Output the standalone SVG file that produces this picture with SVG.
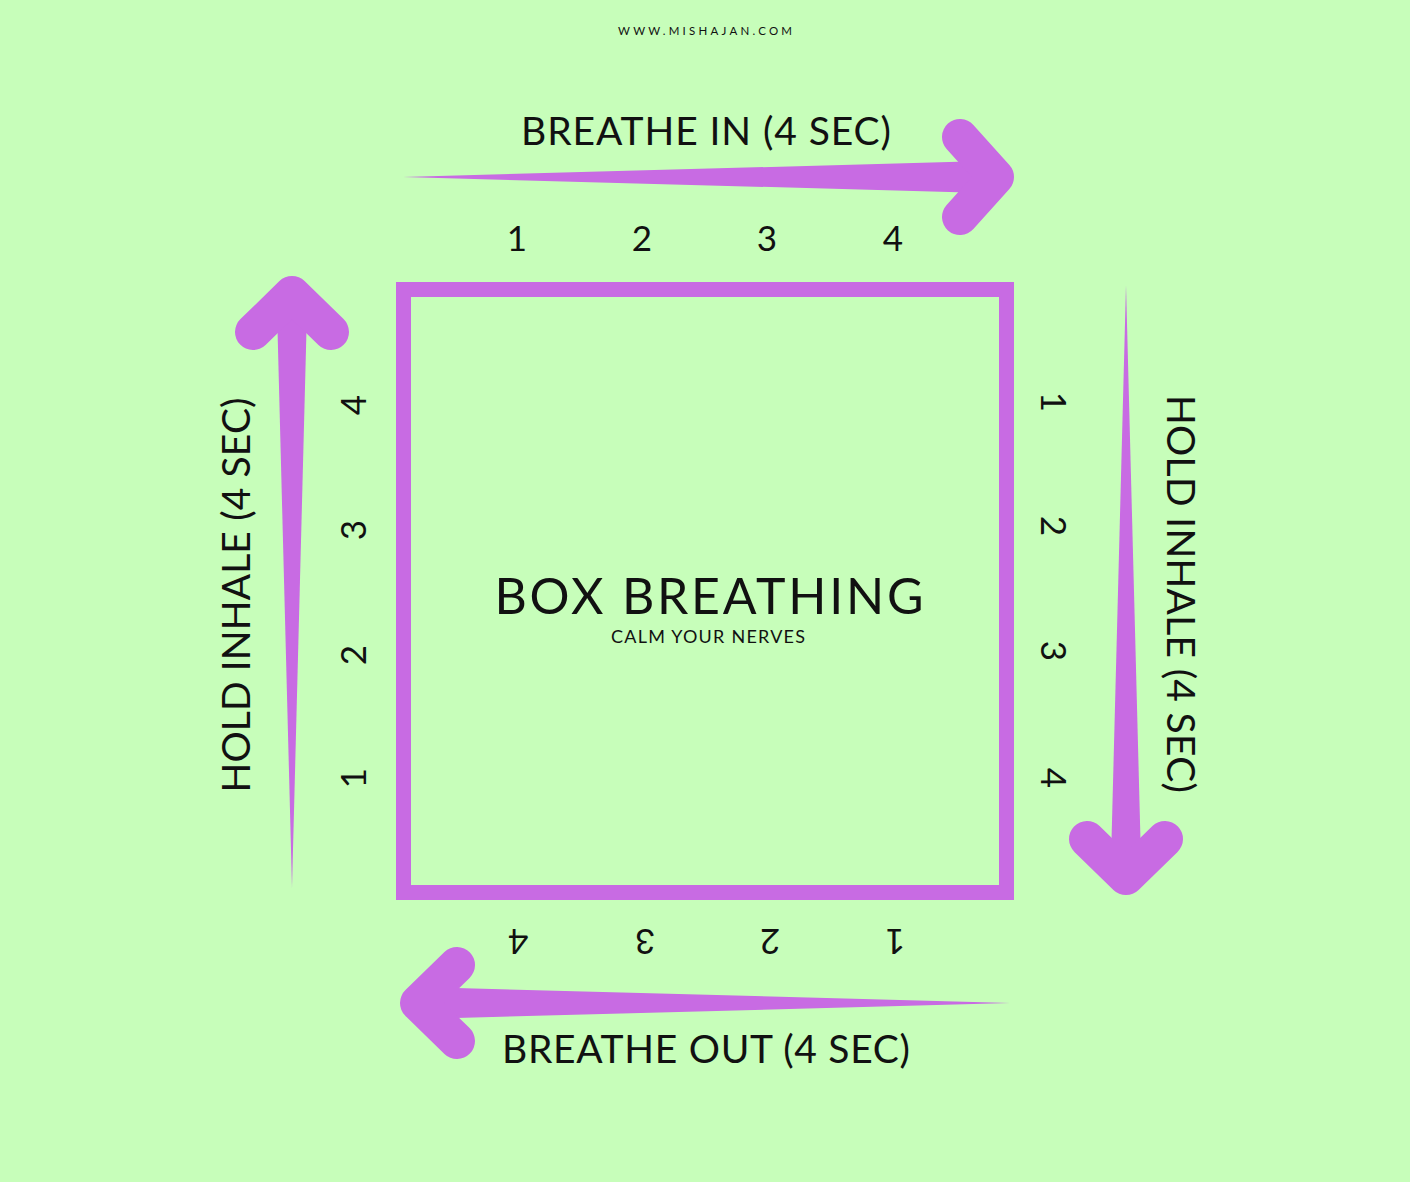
<svg xmlns="http://www.w3.org/2000/svg" width="1410" height="1182" viewBox="0 0 1410 1182">
<style>
.t{font-family:"Lato","Liberation Sans",sans-serif;fill:#111;}
.lbl{font-size:39px;}
.num{font-size:35px;text-anchor:middle;}
.shaft{fill:#c86be3;}
.head{fill:none;stroke:#c86be3;stroke-width:36;stroke-linecap:round;stroke-linejoin:round;}
</style>
<rect width="1410" height="1182" fill="#c7feba"/>
<text class="t" x="705" y="35" font-size="11.5" text-anchor="middle" textLength="174" lengthAdjust="spacing">WWW.MISHAJAN.COM</text>

<g id="box">
<rect x="403.5" y="289.5" width="603" height="603" fill="none" stroke="#c86be3" stroke-width="15"/>
<text class="t" x="709" y="614" font-size="50" text-anchor="middle" textLength="429" lengthAdjust="spacing">BOX BREATHING</text>
<text class="t" x="708" y="643" font-size="18" text-anchor="middle" textLength="194" lengthAdjust="spacing">CALM YOUR NERVES</text>
</g>

<g id="connectors">
<g id="arrow-top">
<polygon class="shaft" points="403,177 985,161 985,193"/>
<path class="head" d="M960,137 L996,177 L960,217"/>
</g>
<g id="arrow-right">
<polygon class="shaft" points="1126,285 1111,860 1141,860"/>
<path class="head" d="M1087,839 L1126,877 L1165,839"/>
</g>
<g id="arrow-bottom">
<polygon class="shaft" points="1010,1003 420,987 420,1019"/>
<path class="head" d="M457,965 L418,1003 L457,1041"/>
</g>
<g id="arrow-left">
<polygon class="shaft" points="292,888 277,310 307,310"/>
<path class="head" d="M253,332 L292,294 L331,332"/>
</g>
</g>

<g id="label-top">
<text class="t lbl" x="706" y="145" text-anchor="middle" textLength="370" lengthAdjust="spacing">BREATHE IN (4 SEC)</text>
<text class="t num" x="517" y="251">1</text>
<text class="t num" x="642" y="251">2</text>
<text class="t num" x="767" y="251">3</text>
<text class="t num" x="893" y="251">4</text>
</g>

<g id="label-right">
<text class="t lbl" transform="translate(1167,594) rotate(90)" x="0" y="0" text-anchor="middle" textLength="398" lengthAdjust="spacing">HOLD INHALE (4 SEC)</text>
<text class="t num" transform="translate(1041,402) rotate(90)">1</text>
<text class="t num" transform="translate(1041,526) rotate(90)">2</text>
<text class="t num" transform="translate(1041,651) rotate(90)">3</text>
<text class="t num" transform="translate(1041,778) rotate(90)">4</text>
</g>

<g id="label-bottom">
<text class="t lbl" x="706" y="1063" text-anchor="middle" textLength="408" lengthAdjust="spacing">BREATHE OUT (4 SEC)</text>
<text class="t num" transform="translate(518,929) rotate(180)">4</text>
<text class="t num" transform="translate(645,929) rotate(180)">3</text>
<text class="t num" transform="translate(770,929) rotate(180)">2</text>
<text class="t num" transform="translate(895,929) rotate(180)">1</text>
</g>

<g id="label-left">
<text class="t lbl" transform="translate(250,595) rotate(-90)" text-anchor="middle" textLength="395" lengthAdjust="spacing">HOLD INHALE (4 SEC)</text>
<text class="t num" transform="translate(366,778) rotate(-90)">1</text>
<text class="t num" transform="translate(366,655) rotate(-90)">2</text>
<text class="t num" transform="translate(366,530) rotate(-90)">3</text>
<text class="t num" transform="translate(366,405) rotate(-90)">4</text>
</g>
</svg>
